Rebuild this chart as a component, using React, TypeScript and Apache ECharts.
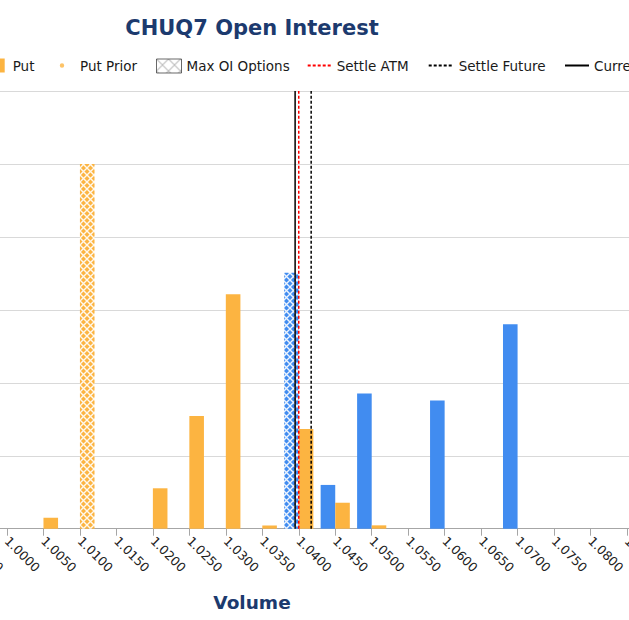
import React, { useEffect, useRef } from "react";
import * as echarts from "echarts";

// ---- data ----
const strikes = [
  "0.9950", "1.0000", "1.0050", "1.0100", "1.0150", "1.0200", "1.0250", "1.0300",
  "1.0350", "1.0400", "1.0450", "1.0500", "1.0550", "1.0600", "1.0650", "1.0700",
  "1.0750", "1.0800", "1.0850",
];
const callOI = [0, 0, 0, 0, 0, 0, 0, 0, 0, 1755, 300, 926, 0, 878, 0, 1402, 0, 0, 0];
const putOI = [0, 0, 75, 2500, 0, 277, 773, 1607, 22, 684, 178, 23, 0, 0, 0, 0, 0, 0, 0];
const putPriorOI: number[] = [];
const maxCallStrike = "1.0400";
const maxPutStrike = "1.0100";
const settleATM = 1.04;
const settleFuture = 1.0417;
const currentFuture = 1.0395;
const yMax = 3000;
const yInterval = 500;
const strikeStep = 0.005;

const BLUE = "#418CF0";
const ORANGE = "#FCB441";
const NAVY = "#1C3A6E";
const FONT = "DejaVu Sans";

function hatch(bg: string, fg: string, size = 7, lw = 1.4) {
  const c = document.createElement("canvas");
  c.width = size;
  c.height = size;
  const ctx = c.getContext("2d")!;
  ctx.fillStyle = bg;
  ctx.fillRect(0, 0, size, size);
  ctx.strokeStyle = fg;
  ctx.lineWidth = lw;
  ctx.beginPath();
  ctx.moveTo(-1, -1);
  ctx.lineTo(size + 1, size + 1);
  ctx.moveTo(size + 1, -1);
  ctx.lineTo(-1, size + 1);
  ctx.stroke();
  return { image: c, repeat: "repeat" } as any;
}

const OFF = 200; // chart is wider than the window; shifted left
const W = 904;
const H = 620;
const BAND = 36.47;
const GRID_LEFT = OFF + 7 - 1.5 * BAND;
const GRID_RIGHT = W - GRID_LEFT - strikes.length * BAND;
const GRID_BOTTOM = 91.3;

export default function App() {
  const ref = useRef<HTMLDivElement>(null);
  useEffect(() => {
    if (!ref.current) return;
    const chart = echarts.init(ref.current, undefined, { renderer: "svg" });
    const putHatch = hatch(ORANGE, "rgba(255,255,255,0.9)");
    const callHatch = hatch(BLUE, "rgba(255,255,255,0.9)");
    const legendHatch = hatch("#ffffff", "#b0b0b0", 12, 1.2);

    const putData = putOI.map((v, i) =>
      strikes[i] === maxPutStrike ? { value: v, itemStyle: { color: putHatch } } : v
    );
    const callData = callOI.map((v, i) =>
      strikes[i] === maxCallStrike ? { value: v, itemStyle: { color: callHatch } } : v
    );

    const txt = { fontFamily: FONT, fontSize: 13.5, color: "#1a1a1a" };
    const lg = (name: any, left: number, itemWidth: number) => ({
      data: [name],
      left: left + OFF,
      top: 58.5,
      padding: 0,
      itemWidth,
      itemHeight: 14,
      textStyle: txt,
      selectedMode: false,
    });
    const noSym = {
      color: "rgba(0,0,0,0)",
      borderColor: "rgba(0,0,0,0)",
      borderWidth: 0,
      opacity: 0,
    };

    const vline = (name: string, x: number, color: string, type: any, width: number) => ({
      name,
      type: "line",
      xAxisIndex: 1,
      yAxisIndex: 0,
      data: [
        [x, 0],
        [x, yMax],
      ],
      symbol: "none",
      z: 5,
      color,
      lineStyle: { color, type, width },
    });

    const firstStrike = parseFloat(strikes[0]);
    const lastStrike = parseFloat(strikes[strikes.length - 1]);

    chart.setOption({
      animation: false,
      backgroundColor: "#ffffff",
      title: [
        {
          text: "CHUQ7 Open Interest",
          left: "center",
          top: 12,
          textStyle: { fontFamily: FONT, fontSize: 21, fontWeight: "bold", color: NAVY },
        },
        {
          text: "Volume",
          left: "center",
          top: H - GRID_BOTTOM + 64,
          padding: 0,
          textStyle: { fontFamily: FONT, fontSize: 18.5, fontWeight: "bold", color: NAVY },
        },
      ],
      legend: [
        lg({ name: "Put", icon: "path://M0,0H11V14H0Z M14,14L14,14" }, -6.3, 14),
        lg(
          { name: "Put Prior", icon: "path://M0,0L0,0 M20,14L20,14 M4.8,7A2.2,2.2,0,1,0,9.2,7A2.2,2.2,0,1,0,4.8,7Z" },
          55,
          20
        ),
        lg(
          {
            name: "Max OI Options",
            icon: "rect",
            itemStyle: { color: legendHatch, borderColor: "#444", borderWidth: 1 },
          },
          156,
          25
        ),
        lg({ name: "Settle ATM", itemStyle: noSym }, 306.7, 24),
        lg({ name: "Settle Future", itemStyle: noSym }, 427.7, 25),
        lg({ name: "Current Future", itemStyle: noSym }, 564, 24),
      ],
      grid: {
        left: GRID_LEFT,
        right: GRID_RIGHT,
        top: 91,
        bottom: GRID_BOTTOM,
        containLabel: false,
        outerBoundsMode: "none",
      },
      xAxis: [
        {
          type: "category",
          data: strikes,
          axisLine: { show: true, lineStyle: { color: "#a6a6a6", width: 1 } },
          axisTick: { show: true, alignWithLabel: true, length: 7, lineStyle: { color: "#a6a6a6" } },
          axisLabel: {
            interval: 0,
            rotate: -45,
            margin: 10,
            fontFamily: FONT,
            fontSize: 12.5,
            color: "#222",
            hideOverlap: false,
          },
          splitLine: { show: false },
        },
        {
          type: "value",
          min: firstStrike - strikeStep / 2,
          max: lastStrike + strikeStep / 2,
          show: false,
          splitLine: { show: false },
        },
      ],
      yAxis: {
        type: "value",
        min: 0,
        max: yMax,
        interval: yInterval,
        axisLine: { show: false },
        axisTick: { show: false },
        axisLabel: { show: false },
        splitLine: { show: true, lineStyle: { color: "#d9d9d9", width: 1 } },
      },
      series: [
        {
          name: "Call",
          type: "bar",
          data: callData,
          color: BLUE,
          itemStyle: { color: BLUE },
          barGap: "0%",
          barCategoryGap: "20%",
        },
        {
          name: "Put",
          type: "bar",
          data: putData,
          color: ORANGE,
          itemStyle: { color: ORANGE },
          barGap: "0%",
          barCategoryGap: "20%",
        },
        { name: "Put Prior", type: "scatter", data: putPriorOI, color: ORANGE, symbolSize: 5 },
        { name: "Max OI Options", type: "scatter", data: [], color: "#ffffff" },
        vline("Settle ATM", settleATM, "#ff0000", [3, 2], 1.5),
        vline("Settle Future", settleFuture, "#000000", [3, 2], 1.5),
        vline("Current Future", currentFuture, "#000000", "solid", 1.5),
      ],
    });
    return () => chart.dispose();
  }, []);

  return (
    <div
      style={{
        position: "fixed",
        left: 0,
        top: 0,
        width: 629,
        height: 620,
        overflow: "hidden",
        background: "#fff",
      }}
    >
      <div ref={ref} style={{ position: "absolute", left: -OFF, top: 0, width: W, height: H }} />
    </div>
  );
}
